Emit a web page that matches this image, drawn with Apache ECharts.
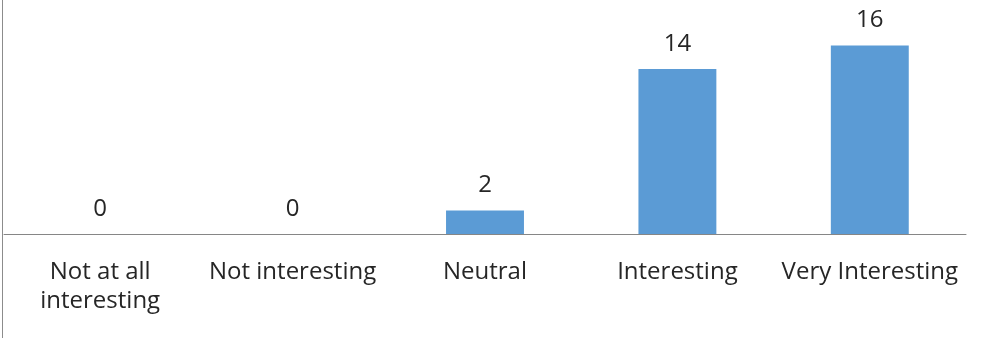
<!DOCTYPE html>
<html>
<head>
<meta charset="utf-8">
<script src="https://cdn.jsdelivr.net/npm/echarts@6/dist/echarts.min.js"></script>
<style>html,body{margin:0;padding:0;background:#fff;}#c{width:982px;height:338px;}</style>
</head>
<body>
<div id="c"></div>
<script>
var categories = ["Not at all interesting", "Not interesting", "Neutral", "Interesting", "Very Interesting"];
var counts = [0, 0, 2, 14, 16];

var chart = echarts.init(document.getElementById('c'), null, {renderer: 'canvas'});
chart.setOption({
  animation: false,
  textStyle: {fontFamily: 'Open Sans'},
  graphic: [{
    type: 'line',
    shape: {x1: 2.5, y1: 0, x2: 2.5, y2: 338},
    style: {stroke: '#8c8c8c', lineWidth: 1}
  }],
  grid: {left: 4, right: 16, top: 22, bottom: 104},
  xAxis: {
    type: 'category',
    data: categories,
    axisLine: {lineStyle: {color: '#868686', width: 1}},
    axisTick: {show: false},
    axisLabel: {
      color: '#262626',
      fontSize: 24,
      fontFamily: 'Open Sans',
      margin: 24,
      lineHeight: 29,
      interval: 0,
      formatter: function (v) { return v.replace('Not at all ', 'Not at all\n'); }
    }
  },
  yAxis: {
    type: 'value',
    min: 0,
    max: 18,
    show: false,
    splitLine: {show: false}
  },
  series: [{
    type: 'bar',
    data: counts,
    barCategoryGap: '59.5%',
    itemStyle: {color: '#5B9BD5'},
    label: {
      show: true,
      position: 'top',
      distance: 13,
      color: '#262626',
      fontSize: 24,
      fontFamily: 'Open Sans'
    }
  }]
});
</script>
</body>
</html>
